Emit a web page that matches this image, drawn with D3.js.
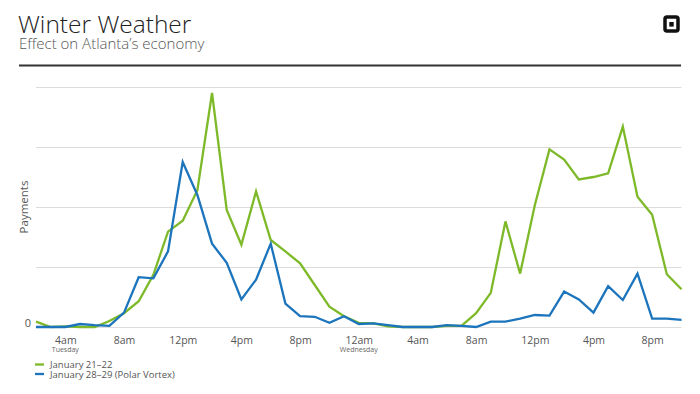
<!DOCTYPE html>
<html>
<head>
<meta charset="utf-8">
<script src="https://d3js.org/d3.v7.min.js"></script>
<style>
  body { margin: 0; background: #fff; }
  text { font-family: "Open Sans", sans-serif; }
</style>
</head>
<body>
<svg id="chart" width="700" height="394"></svg>
<script>
// hourly payments, Tue 2am .. Wed 10pm
const start = new Date(2014, 0, 28, 2);
const jan21 = [9, 0, 1, 0, 0, 10, 23, 43, 87, 159, 177, 228, 390, 195, 137, 226, 145, 126, 106, 70, 34, 18, 7,
               6, 1, 0, 0, 0, 2, 2, 23, 57, 176, 89, 203, 296, 279, 246, 250, 256, 334, 217, 187, 88, 63];
const jan28 = [0, 0, 0, 5, 3, 2, 24, 83, 81, 126, 275, 220, 139, 107, 46, 79, 139, 39, 18, 17, 7, 18, 5,
               6, 3, 0, 0, 0, 3, 2, 0, 9, 9, 14, 20, 19, 59, 46, 24, 68, 45, 89, 14, 14, 12];
const seriesNames = ["January 21\u201322", "January 28\u201329 (Polar Vortex)"];
const seriesColors = ["#7db928", "#1c75bc"];
const yTicks = [0, 100, 200, 300, 400];

const svg = d3.select("svg#chart");
const margin = {left: 36, right: 19, top: 87, bottom: 67};
const width = +svg.attr("width");
const height = +svg.attr("height");

const hours = jan21.map((d, i) => d3.timeHour.offset(start, i));
const x = d3.scaleTime()
    .domain([hours[0], hours[hours.length - 1]])
    .range([margin.left, width - margin.right + 0.5]);
const y = d3.scaleLinear()
    .domain([0, 400])
    .range([height - margin.bottom, margin.top]);

// header
svg.append("text").attr("x", 18).attr("y", 32.5)
    .attr("font-size", 24.5).attr("font-weight", 300).attr("fill", "#222")
    .text("Winter Weather");
svg.append("text").attr("x", 19).attr("y", 49)
    .attr("font-size", 15).attr("font-weight", 300).attr("fill", "#555")
    .text("Effect on Atlanta\u2019s economy");
svg.append("line").attr("x1", 19).attr("x2", 681).attr("y1", 65.5).attr("y2", 65.5)
    .attr("stroke", "#333").attr("stroke-width", 2);

// logo
svg.append("rect").attr("x", 665).attr("y", 17).attr("width", 13).attr("height", 14)
    .attr("rx", 2).attr("fill", "none").attr("stroke", "#111").attr("stroke-width", 3.5);
svg.append("rect").attr("x", 669.3).attr("y", 22).attr("width", 4.4).attr("height", 4.6).attr("fill", "#111");

// grid
const yAxis = d3.axisLeft(y).tickValues(yTicks)
    .tickSize(-(x.range()[1] - x.range()[0]))
    .tickFormat(d => d === 0 ? "0" : "");
const gy = svg.append("g").attr("transform", `translate(${margin.left},0)`).call(yAxis);
gy.select(".domain").remove();
gy.selectAll(".tick line").attr("stroke", "#dcdcdc").attr("stroke-width", 1);
gy.selectAll(".tick text").attr("x", -5).attr("dy", "-0.05em").attr("font-size", 11).attr("fill", "#555")
    .style("font-family", "Open Sans, sans-serif");

svg.append("text")
    .attr("transform", `translate(28,${(y(0) + y(400)) / 2}) rotate(-90)`)
    .attr("text-anchor", "middle").attr("font-size", 11.5).attr("fill", "#555")
    .text("Payments");

// x axis
const fmt = d => {
  const h = d.getHours();
  const h12 = h % 12 === 0 ? 12 : h % 12;
  return h12 + (h < 12 ? "am" : "pm");
};
const xAxis = d3.axisBottom(x).ticks(d3.timeHour.every(4)).tickSize(0).tickFormat(fmt);
const gx = svg.append("g").attr("transform", `translate(0,${y(0)})`).call(xAxis);
gx.select(".domain").remove();
gx.selectAll(".tick text").attr("dy", 0).attr("y", 16.5).attr("font-size", 10.5).attr("fill", "#555")
    .style("font-family", "Open Sans, sans-serif");

const dayLabels = [[new Date(2014, 0, 28, 4), "Tuesday"], [new Date(2014, 0, 29, 0), "Wednesday"]];
svg.selectAll("text.day").data(dayLabels).join("text")
    .attr("class", "day")
    .attr("x", d => x(d[0])).attr("y", y(0) + 25)
    .attr("text-anchor", "middle").attr("font-size", 7).attr("fill", "#666")
    .text(d => d[1]);

// lines
const line = d3.line().x((d, i) => x(hours[i])).y(d => y(d));
svg.selectAll("path.series").data([jan21, jan28]).join("path")
    .attr("class", "series")
    .attr("fill", "none")
    .attr("stroke", (d, i) => seriesColors[i])
    .attr("stroke-width", 2.3)
    .attr("stroke-linejoin", "miter")
    .attr("d", line);

// legend
const leg = svg.selectAll("g.leg").data(seriesNames).join("g")
    .attr("class", "leg")
    .attr("transform", (d, i) => `translate(35,${364.5 + i * 9.5})`);
leg.append("line").attr("x1", 0).attr("x2", 9).attr("stroke", (d, i) => seriesColors[i]).attr("stroke-width", 2.3);
leg.append("text").attr("x", 15).attr("y", 3.5).attr("font-size", 9.5).attr("fill", "#555").text(d => d);
</script>
</body>
</html>
